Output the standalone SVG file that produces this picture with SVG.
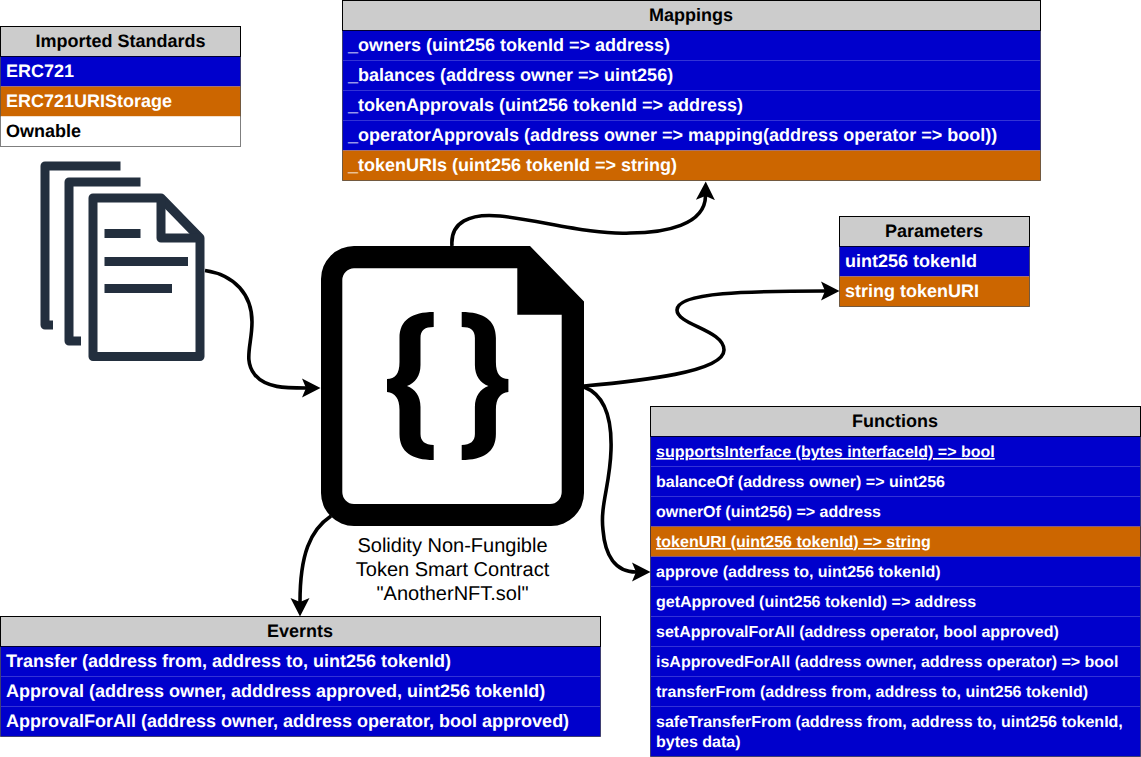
<svg xmlns="http://www.w3.org/2000/svg" xmlns:xlink="http://www.w3.org/1999/xlink" width="1141" height="757" viewBox="0 0 1141 757">
<style>
text{font-family:"Liberation Sans",Arial,sans-serif;text-rendering:geometricPrecision}
.h{font-size:18px;font-weight:bold;fill:#000;text-anchor:middle}
.t{font-size:18px;font-weight:bold;fill:#fff}
.s{font-size:16px;font-weight:bold;fill:#fff}
.k{fill:#000}
.u{text-decoration:underline}
.hd{fill:#ccc;stroke:#000;stroke-width:1}
.b{fill:#0000cc}
.o{fill:#cc6600}
.w{fill:#fff}
.sep{stroke:#fff;stroke-opacity:.2;stroke-width:1;fill:none}
.box{fill:none;stroke:#000;stroke-opacity:.5;stroke-width:1}
.c{fill:none;stroke:#000;stroke-width:3.600}
.d{fill:none;stroke:#232f3e;stroke-width:9;stroke-linejoin:round}
.dl{fill:#232f3e}
.cap{font-size:20px;fill:#000;text-anchor:middle}
</style>
<defs>
<marker id="arrow" markerUnits="userSpaceOnUse" viewBox="0 0 19 22" refX="4" refY="11" markerWidth="19" markerHeight="22" orient="auto">
<path d="M18.500 11 L0 1.500 L4 11 L0 20.500 Z" fill="#000"/>
</marker>
<path id="brace" d="M433.700 312V327C425 327 420.500 330 420.500 338V365C420.500 376 415 383 407 386C415 389 420.500 396 420.500 407V434C420.500 441 425 445 433.700 445V460C412 460 399.500 452 399.500 434V410C399.500 398 395 393 387 392V379C395 379 399.500 374 399.500 362V338C399.500 320 412 312 433.700 312Z" fill="#000"/>
</defs>

<g id="connectors">
<path class="c" marker-end="url(#arrow)" d="M205 270.500C235 275 252 295 252 322C252 345 243 360 255 375C266 388 285 388 306 388"/>
<path class="c" marker-end="url(#arrow)" d="M452 246C450 222 470 213 500 216C540 220 590 235 630 233C665 233 705 225 705.500 196"/>
<path class="c" marker-end="url(#arrow)" d="M584 386C640 381 724 372 724 350C724 330 677 325 677 310C677 292 750 291 825 291"/>
<path class="c" marker-end="url(#arrow)" d="M584 387C605 395 612 420 611 450C610 485 600 505 603 530C605 555 615 572 636 572"/>
<path class="c" marker-end="url(#arrow)" d="M331 516C310 530 300 555 300 602"/>
</g>

<g id="imported-standards">
<rect class="hd" x="0.500" y="26.500" width="240" height="30"/>
<text class="h" x="120.500" y="47">Imported Standards</text>
<rect class="b" x="0.500" y="56.500" width="240" height="30"/>
<rect class="o" x="0.500" y="86.500" width="240" height="30"/>
<rect class="w" x="0.500" y="116.500" width="240" height="30"/>
<rect class="box" x="0.500" y="56.500" width="240" height="90"/>
<path class="sep" d="M1 116.500H240"/>
<text class="t" x="6" y="77">ERC721</text>
<text class="t" x="6" y="107">ERC721URIStorage</text>
<text class="t k" x="6" y="137">Ownable</text>
</g>

<g id="imported-files">
<path class="d" d="M120.500 166H45V325H53"/>
<path class="d" d="M140.500 182H69V341H81"/>
<path class="d" d="M93 198H161L200 238V356.500H93Z"/>
<path class="d" d="M161 198V238H200"/>
<rect class="dl" x="104.500" y="229" width="36" height="9"/>
<rect class="dl" x="104.500" y="257" width="83.500" height="9"/>
<rect class="dl" x="104.500" y="284" width="67.500" height="9"/>
</g>

<g id="contract">
<path fill="#000" fill-rule="evenodd" d="M354 246H530L584 301.500V493A33 33 0 0 1 551 526H354A33 33 0 0 1 321 493V279A33 33 0 0 1 354 246ZM354 268.300A12 12 0 0 0 342.300 280V492A12 12 0 0 0 354 504H550A12 12 0 0 0 561.700 492V314.700H517.300V268.300Z"/>
<use xlink:href="#brace" href="#brace"/>
<use xlink:href="#brace" href="#brace" transform="matrix(-1 0 0 1 895.400 0)"/>
<text class="cap" x="452.500" y="552">Solidity Non-Fungible</text>
<text class="cap" x="452.500" y="576">Token Smart Contract</text>
<text class="cap" x="452.500" y="600">"AnotherNFT.sol"</text>
</g>

<g id="mappings">
<rect class="hd" x="342.500" y="0.500" width="698" height="30"/>
<text class="h" x="691" y="21">Mappings</text>
<rect class="b" x="342.500" y="30.500" width="698" height="120"/>
<rect class="o" x="342.500" y="150.500" width="698" height="30"/>
<rect class="box" x="342.500" y="30.500" width="698" height="150"/>
<path class="sep" d="M343 60.500H1040M343 90.500H1040M343 120.500H1040"/>
<text class="t" x="348" y="51">_owners (uint256 tokenId =&gt; address)</text>
<text class="t" x="348" y="81">_balances (address owner =&gt; uint256)</text>
<text class="t" x="348" y="111">_tokenApprovals (uint256 tokenId =&gt; address)</text>
<text class="t" x="348" y="141">_operatorApprovals (address owner =&gt; mapping(address operator =&gt; bool))</text>
<text class="t" x="348" y="171">_tokenURIs (uint256 tokenId =&gt; string)</text>
</g>

<g id="parameters">
<rect class="hd" x="839.500" y="216.500" width="190" height="30"/>
<text class="h" x="934" y="237">Parameters</text>
<rect class="b" x="839.500" y="246.500" width="190" height="30"/>
<rect class="o" x="839.500" y="276.500" width="190" height="30"/>
<rect class="box" x="839.500" y="246.500" width="190" height="60"/>
<text class="t" x="845" y="267">uint256 tokenId</text>
<text class="t" x="845" y="297">string tokenURI</text>
</g>

<g id="functions">
<rect class="hd" x="650.500" y="406.500" width="490" height="30"/>
<text class="h" x="895" y="427">Functions</text>
<rect class="b" x="650.500" y="436.500" width="490" height="320"/>
<rect class="o" x="650.500" y="526.500" width="490" height="30"/>
<rect class="box" x="650.500" y="436.500" width="490" height="320"/>
<path class="sep" d="M651 466.500H1140M651 496.500H1140M651 526.500H1140M651 556.500H1140M651 586.500H1140M651 616.500H1140M651 646.500H1140M651 676.500H1140M651 706.500H1140"/>
<text class="s u" x="656" y="457">supportsInterface (bytes interfaceId) =&gt; bool</text>
<text class="s" x="656" y="487">balanceOf (address owner) =&gt; uint256</text>
<text class="s" x="656" y="517">ownerOf (uint256) =&gt; address</text>
<text class="s u" x="656" y="547">tokenURI (uint256 tokenId) =&gt; string</text>
<text class="s" x="656" y="577">approve (address to, uint256 tokenId)</text>
<text class="s" x="656" y="607">getApproved (uint256 tokenId) =&gt; address</text>
<text class="s" x="656" y="637">setApprovalForAll (address operator, bool approved)</text>
<text class="s" x="656" y="667">isApprovedForAll (address owner, address operator) =&gt; bool</text>
<text class="s" x="656" y="697">transferFrom (address from, address to, uint256 tokenId)</text>
<text class="s" x="656" y="727">safeTransferFrom (address from, address to, uint256 tokenId,</text>
<text class="s" x="656" y="747">bytes data)</text>
</g>

<g id="events">
<rect class="hd" x="0.500" y="616.500" width="600" height="30"/>
<text class="h" x="300" y="637">Evernts</text>
<rect class="b" x="0.500" y="646.500" width="600" height="90"/>
<rect class="box" x="0.500" y="646.500" width="600" height="90"/>
<path class="sep" d="M1 676.500H600M1 706.500H600"/>
<text class="t" x="6" y="667">Transfer (address from, address to, uint256 tokenId)</text>
<text class="t" x="6" y="697">Approval (address owner, adddress approved, uint256 tokenId)</text>
<text class="t" x="6" y="727">ApprovalForAll (address owner, address operator, bool approved)</text>
</g>
</svg>
